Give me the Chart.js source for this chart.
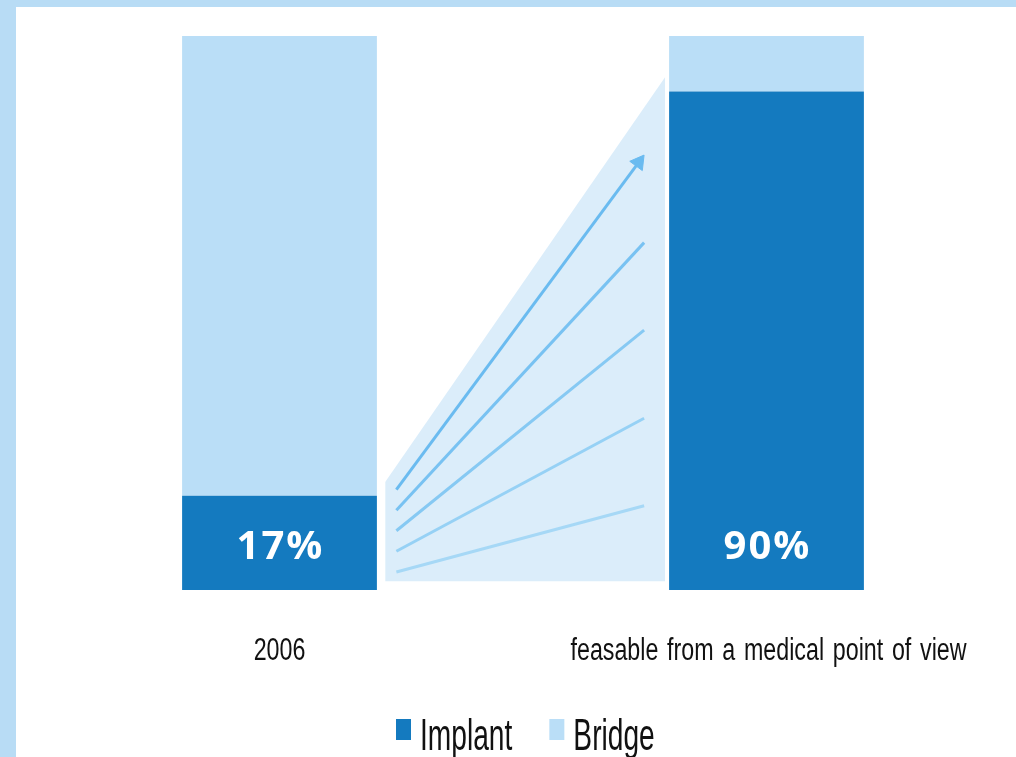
<!DOCTYPE html>
<html>
<head>
<meta charset="utf-8">
<script src="https://cdn.jsdelivr.net/npm/chart.js@4.4.1/dist/chart.umd.min.js"></script>
<style>
  html, body { margin: 0; padding: 0; background: #b8dcf5; overflow: hidden; }
  #wrap { position: absolute; left: 16px; top: 7px; width: 1004px; height: 750px; background: #fff; }
</style>
</head>
<body>
<div id="wrap"><canvas id="chart"></canvas></div>
<script>
// chart values
var categories = ['2006', 'feasable from a medical point of view'];
var implant = [17, 90];
var bridge = [83, 10];

// decorative "growth" fan between the two bars, in data units
var fanEdge = [{x: 0.217, y: 19.5}, {x: 0.792, y: 92.6}];
var fanFloor = 1.6;
var fanLines = [
  [{x: 0.24, y: 18.1}, {x: 0.7376, y: 77.2}],
  [{x: 0.24, y: 14.4}, {x: 0.7487, y: 62.7}],
  [{x: 0.24, y: 10.7}, {x: 0.7487, y: 46.9}],
  [{x: 0.24, y: 7.0}, {x: 0.7487, y: 31.0}],
  [{x: 0.24, y: 3.25}, {x: 0.7487, y: 15.2}]
];
var fanColours = ['#6abbf0', '#78c2f2', '#86c9f3', '#96d1f5', '#a6d8f6'];

var narrowFont = '"Liberation Sans", Arial, sans-serif';

// the source uses a squeezed sans, so draw text scaled horizontally
function squeezedText(ctx, text, x, y, size, sx, align){
  ctx.save();
  ctx.font = size + 'px ' + narrowFont;
  ctx.wordSpacing = '3px';
  var w = ctx.measureText(text).width * sx;
  var left = align === 'center' ? x - w / 2 : x;
  ctx.translate(left, y);
  ctx.scale(sx, 1);
  ctx.textAlign = 'left';
  ctx.textBaseline = 'alphabetic';
  ctx.fillText(text, 0, 0);
  ctx.restore();
  return w;
}

var textPlugin = {
  id: 'textPlugin',
  afterDraw: function(chart){
    var ctx = chart.ctx;
    var area = chart.chartArea;
    var xScale = chart.scales.x;

    // percentages inside the implant segments
    var meta = chart.getDatasetMeta(0);
    ctx.save();
    ctx.font = 'bold 40px "Open Sans", sans-serif';
    ctx.letterSpacing = '2px';
    ctx.fillStyle = '#ffffff';
    ctx.textAlign = 'center';
    ctx.textBaseline = 'middle';
    meta.data.forEach(function(bar, i){
      ctx.fillText(implant[i] + '%', bar.x + 1, bar.base - 42);
    });
    ctx.restore();

    // category labels under the bars
    ctx.fillStyle = '#111';
    categories.forEach(function(cat, i){
      squeezedText(ctx, cat, xScale.getPixelForTick(i) + (i ? 2 : 0), area.bottom + 70, 31, 0.75, 'center');
    });

    // legend
    var size = 44, sx = 0.64, box = 15, boxH = 21, gap = 9, itemGap = 37;
    var items = chart.data.datasets.filter(function(d){ return d.type !== 'line'; });
    var x = 396 - 16;
    var baseline = area.bottom + 160;
    items.forEach(function(d){
      ctx.fillStyle = d.backgroundColor;
      ctx.fillRect(x, baseline - 31, box, boxH);
      x += box + gap;
      ctx.fillStyle = '#111';
      x += squeezedText(ctx, d.label, x, baseline, size, sx, 'left') + itemGap;
    });
  }
};

var datasets = [
  {label: 'Implant', data: implant, backgroundColor: '#147abf', order: 1},
  {label: 'Bridge', data: bridge, backgroundColor: '#badef7', order: 1}
];

datasets.push({
  type: 'line', label: 'fan', xAxisID: 'xd', stack: 'fan', order: 3,
  data: fanEdge, borderWidth: 0, borderColor: 'rgba(0,0,0,0)',
  backgroundColor: '#dbedfa', fill: {value: fanFloor}, pointRadius: 0
});

fanLines.forEach(function(line, i){
  datasets.push({
    type: 'line', label: 'line' + i, xAxisID: 'xd', stack: 'line' + i, order: 2,
    data: line, borderColor: fanColours[i], borderWidth: 3, fill: false,
    borderCapStyle: 'butt',
    pointRadius: i === 0 ? [0, 9] : 0,
    pointStyle: 'triangle',
    pointRotation: 36.5,
    pointBackgroundColor: fanColours[i],
    pointBorderColor: fanColours[i],
    pointBorderWidth: 1
  });
});

new Chart(document.getElementById('chart'), {
  type: 'bar',
  data: {labels: categories, datasets: datasets},
  options: {
    responsive: true,
    maintainAspectRatio: false,
    animation: false,
    layout: {padding: {left: 20, right: 0, top: 29, bottom: 167}},
    datasets: {bar: {categoryPercentage: 1, barPercentage: 0.4, grouped: false}},
    scales: {
      x: {stacked: true, display: false},
      xd: {type: 'linear', display: false, offset: false, min: -0.5, max: 1.5},
      y: {stacked: true, display: false, min: 0, max: 100}
    },
    plugins: {
      tooltip: {enabled: false},
      legend: {display: false}
    }
  },
  plugins: [textPlugin]
});
</script>
</body>
</html>
